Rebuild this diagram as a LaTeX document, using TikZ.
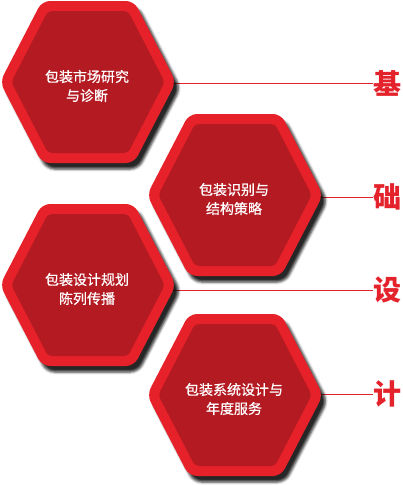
\documentclass[tikz,border=0pt]{standalone}
\usepackage{fontspec}
\usepackage{tikz}
\usetikzlibrary{positioning,shadows.blur}
\newfontfamily\cjk{Noto Sans CJK SC}
\newfontfamily\cjkm{Noto Sans CJK SC}[FakeBold=0.6]
\definecolor{rim}{RGB}{230,33,41}
\definecolor{core}{RGB}{180,26,34}
\definecolor{charred}{RGB}{228,34,43}

\begin{document}
\begin{tikzpicture}[x=1pt,y=-1pt,
    outerhex/.style={fill=rim,rounded corners=8pt,blur shadow={shadow xshift=4.5pt,shadow yshift=-6pt,shadow blur radius=2.5pt,shadow opacity=85}},
    innerhex/.style={fill=core,rounded corners=4pt},
    hextext/.style={text=white,align=center,font=\cjkm\fontsize{14}{19}\selectfont},
    bigchar/.style={text=charred,font=\cjk\bfseries\fontsize{28}{30}\selectfont,inner sep=0pt,anchor=west},
    link/.style={draw=charred,line width=0.8pt}
  ]
  \useasboundingbox (0,0) rectangle (402,485);
  \foreach \n/\cx/\cy/\ly/\txt/\ch in {1/88/82/83/{包装市场研究\\与诊断}/基,
      2/235/195/197/{包装识别与\\结构策略}/础,
      3/88/285/290/{包装设计规划\\陈列传播}/设,
      4/235/395/394/{包装系统设计与\\年度服务}/计}{
    \node[bigchar] (c\n) at (373,\ly) {\ch};
    \coordinate (r\n) at (\cx+80,\ly);
    \draw[link] (r\n) -- (c\n.west);
    \begin{scope}[shift={(\cx,\cy)}]
      \fill[outerhex] (-88,0) -- (-46,-81) -- (46,-81) -- (88,0) -- (46,81) -- (-46,81) -- cycle;
      \fill[innerhex] (-76.7,0) -- (-40,-71) -- (40,-71) -- (76.7,0) -- (40,71) -- (-40,71) -- cycle;
    \end{scope}
    \node[hextext] (t\n) at (\cx-1,\cy+4) {\txt};
  }
\end{tikzpicture}
\end{document}
